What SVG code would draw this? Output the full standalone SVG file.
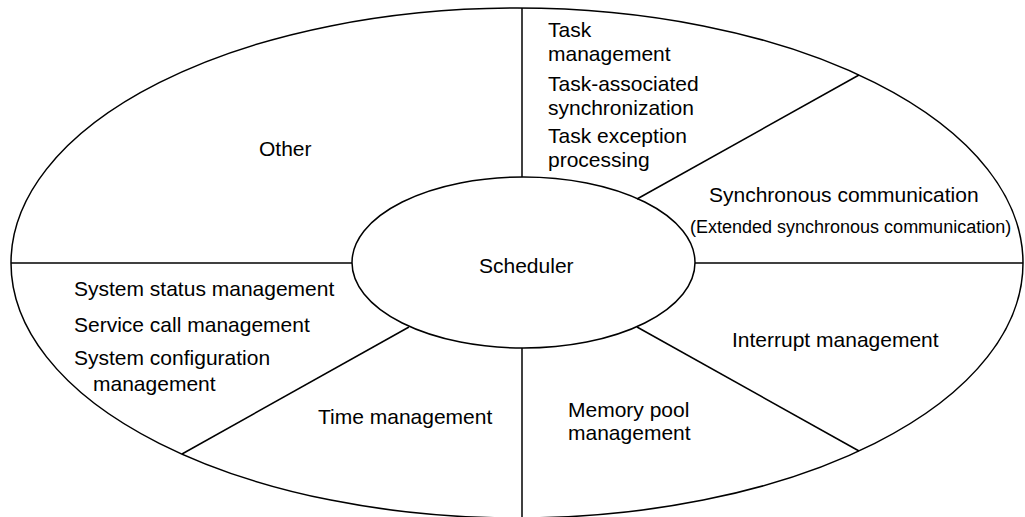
<svg xmlns="http://www.w3.org/2000/svg" width="1025" height="517" viewBox="0 0 1025 517">
<style>
.ln{fill:none;stroke:#000;stroke-width:1.5}
.t{font-family:"Liberation Sans",Arial,Helvetica,sans-serif;font-size:21px;fill:#000}
.s{font-size:18px}
</style>
<rect width="1025" height="517" fill="#fff"/>
<g id="outer"><ellipse class="ln" cx="517" cy="263" rx="506" ry="255"/></g>
<g id="connectors">
<line class="ln" x1="522" y1="8" x2="522" y2="177"/>
<line class="ln" x1="637" y1="199" x2="859" y2="75"/>
<line class="ln" x1="695" y1="263" x2="1023" y2="263"/>
<line class="ln" x1="637" y1="327" x2="859" y2="451"/>
<line class="ln" x1="522" y1="348" x2="522" y2="517"/>
<line class="ln" x1="409" y1="327" x2="182" y2="454"/>
<line class="ln" x1="11" y1="263" x2="352" y2="263"/>
</g>
<g id="scheduler">
<ellipse class="ln" cx="523.5" cy="262.5" rx="171.5" ry="85.5" fill="#fff"/>
<text class="t" x="479" y="273">Scheduler</text>
</g>
<g id="task">
<text class="t" x="548" y="37">Task</text>
<text class="t" x="548" y="61">management</text>
<text class="t" x="548" y="91">Task-associated</text>
<text class="t" x="548" y="115">synchronization</text>
<text class="t" x="548" y="143">Task exception</text>
<text class="t" x="548" y="167">processing</text>
</g>
<g id="sync">
<text class="t" x="709" y="202">Synchronous communication</text>
<text class="t s" x="690" y="233">(Extended synchronous communication)</text>
</g>
<g id="interrupt"><text class="t" x="732" y="347">Interrupt management</text></g>
<g id="memory">
<text class="t" x="568" y="417">Memory pool</text>
<text class="t" x="568" y="440">management</text>
</g>
<g id="time"><text class="t" x="318" y="424">Time management</text></g>
<g id="system">
<text class="t" x="74" y="296">System status management</text>
<text class="t" x="74" y="332">Service call management</text>
<text class="t" x="74" y="365">System configuration</text>
<text class="t" x="93" y="391">management</text>
</g>
<g id="other"><text class="t" x="259" y="156">Other</text></g>
</svg>
